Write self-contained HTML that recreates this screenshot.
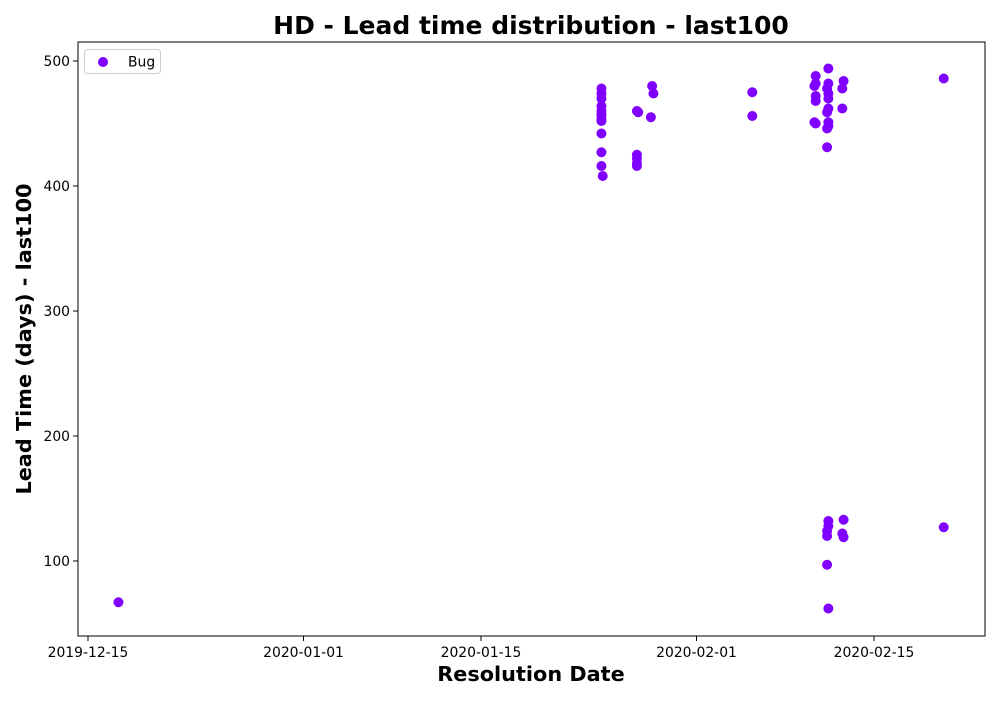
<!DOCTYPE html>
<html><head><meta charset="utf-8"><style>
body{margin:0;background:#fff;}
svg text{font-family:"DejaVu Sans","Liberation Sans",sans-serif;}
</style></head><body>
<svg id="c" width="1000" height="700" xmlns="http://www.w3.org/2000/svg">
<rect width="1000" height="700" fill="#fff"/>
<text x="531" y="34" font-size="25" font-weight="bold" text-anchor="middle">HD - Lead time distribution - last100</text>
<text x="531" y="681" font-size="20.8" font-weight="bold" text-anchor="middle">Resolution Date</text>
<text transform="translate(31,339) rotate(-90)" font-size="20.8" font-weight="bold" text-anchor="middle">Lead Time (days) - last100</text>
<g id="ticks"></g>
<g id="pts"></g>
<rect x="78" y="42" width="907" height="594" fill="none" stroke="#000" stroke-width="1"/>
<g>
<rect x="84.5" y="49.5" width="76" height="24" rx="3" fill="#fff" stroke="#ccc"/>
<circle cx="103" cy="62" r="5" fill="#8000ff"/>
<text x="128" y="66.5" font-size="13.9">Bug</text>
</g>
</svg>
<script>
// day offsets from 2019-12-15
const xDays = [2.4,
 40.5,40.5,40.5,40.5,40.5,40.5,40.5,40.5,40.5,40.5,40.5,40.6,
 43.3,43.4,43.3,43.3,43.3,43.3,
 44.5,44.6,44.4,
 52.4,52.4,
 57.4,57.4,57.3,57.4,57.4,57.3,57.4,
 58.4,58.4,58.3,58.4,58.4,58.4,58.3,58.4,58.4,58.3,58.3,
 59.6,59.5,59.5,
 58.4,58.4,58.3,58.3,58.3,58.4,59.6,59.5,59.6,
 67.5,67.5];
const leadTimes = [67,
 478,474,470,464,460,457,454,452,442,427,416,408,
 460,459,425,422,418,416,
 480,474,455,
 475,456,
 488,482,480,472,468,451,450,
 494,482,478,474,470,462,459,451,448,446,431,
 484,478,462,
 132,128,124,120,97,62,133,122,119,
 486,127];
const tickLabels = ["2019-12-15","2020-01-01","2020-01-15","2020-02-01","2020-02-15"];
const tickDays = [0,17,31,48,62];
const yTicks = [100,200,300,400,500];

const X = d => 88 + d*(786/62);
const Y = v => 561 - (v-100)*1.25;
const NS="http://www.w3.org/2000/svg";
const tg=document.getElementById('ticks'), pg=document.getElementById('pts');
function mk(tag,attrs,parent){const e=document.createElementNS(NS,tag);for(const k in attrs)e.setAttribute(k,attrs[k]);parent.appendChild(e);return e;}
tickDays.forEach((d,i)=>{
  const l=mk('line',{x1:X(d),x2:X(d),y1:636,y2:641,stroke:'#000'},tg);
  
  
  const t=mk('text',{x:X(d),y:657,'font-size':13.9,'text-anchor':'middle'},tg);
  t.textContent=tickLabels[i];
  
  
});
yTicks.forEach(v=>{
  const l=mk('line',{x1:73,x2:78,y1:Y(v),y2:Y(v),stroke:'#000'},tg);
  
  
  const t=mk('text',{x:70,y:Y(v)+5,'font-size':13.9,'text-anchor':'end'},tg);
  t.textContent=v;
  
  
});
xDays.forEach((d,i)=>{
  const c=mk('circle',{cx:X(d),cy:Y(leadTimes[i]),r:5,fill:'#8000ff'},pg);
  
  
});
</script>
</body></html>
